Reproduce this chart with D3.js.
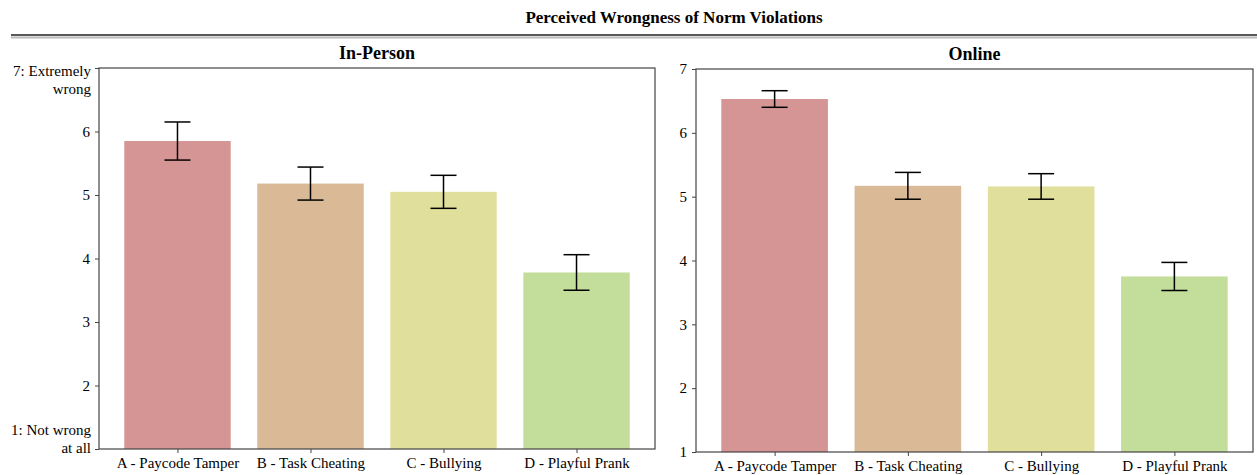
<!DOCTYPE html>
<html>
<head>
<meta charset="utf-8">
<script src="https://cdn.jsdelivr.net/npm/d3@7"></script>
<style>
	body { margin: 0; background: #fff; }
	text { font-family: "Liberation Serif", "Times New Roman", serif; fill: #000; }
</style>
</head>
<body>
<div id="chart"></div>
<script>

var categories = ["A - Paycode Tamper", "B - Task Cheating", "C - Bullying", "D - Playful Prank"];
var colors = ["#d69595", "#d9b996", "#e0df9b", "#c3de9a"];

var inPersonMeans = [5.85, 5.18, 5.05, 3.78];
var inPersonErr = [0.30, 0.26, 0.26, 0.28];

var onlineMeans = [6.53, 5.17, 5.16, 3.75];
var onlineErr = [0.13, 0.21, 0.20, 0.22];

var leftTicks = [1, 2, 3, 4, 5, 6, 7];
var leftTickLabels = {1: ["1: Not wrong", "at all"], 7: ["7: Extremely", "wrong"]};

var width = 1257, height = 475;

var svg = d3.select("#chart")
	.append("svg")
	.attr("width", width)
	.attr("height", height);

// main title
svg.append("text")
	.attr("x", 674)
	.attr("y", 23)
	.attr("text-anchor", "middle")
	.style("font-size", "17px")
	.style("font-weight", "bold")
	.text("Perceived Wrongness of Norm Violations");

svg.append("line")
	.attr("x1", 11).attr("x2", 1257)
	.attr("y1", 35).attr("y2", 35)
	.attr("stroke", "#222").attr("stroke-width", 1.5);
svg.append("line")
	.attr("x1", 11).attr("x2", 1257)
	.attr("y1", 37.5).attr("y2", 37.5)
	.attr("stroke", "#bbb").attr("stroke-width", 2);

function drawPanel(opts) {
	var g = svg.append("g");
	var left = opts.left, right = opts.right, top = opts.top, bottom = opts.bottom;

	var x = d3.scaleLinear().domain([-0.59, 3.59]).range([left, right]);
	var y = d3.scaleLinear().domain([1, 7]).range([bottom, top]);
	var barW = x(0.8) - x(0);

	// bars
	g.selectAll("rect.bar")
		.data(opts.means)
		.enter()
		.append("rect")
		.attr("class", "bar")
		.attr("x", function (d, i) { return x(i) - barW / 2; })
		.attr("width", barW)
		.attr("y", function (d) { return y(d); })
		.attr("height", function (d) { return y(1) - y(d); })
		.attr("fill", function (d, i) { return colors[i]; });

	// error bars
	var capW = 13;
	opts.means.forEach(function (m, i) {
		var e = opts.err[i];
		var cx = x(i);
		g.append("line")
			.attr("x1", cx).attr("x2", cx)
			.attr("y1", y(m + e)).attr("y2", y(m - e))
			.attr("stroke", "#000").attr("stroke-width", 1.5);
		[m + e, m - e].forEach(function (v) {
			g.append("line")
				.attr("x1", cx - capW).attr("x2", cx + capW)
				.attr("y1", y(v)).attr("y2", y(v))
				.attr("stroke", "#000").attr("stroke-width", 1.5);
		});
	});

	// frame
	g.append("rect")
		.attr("x", left).attr("y", top)
		.attr("width", right - left).attr("height", bottom - top)
		.attr("fill", "none")
		.attr("stroke", "#444")
		.attr("stroke-width", 1.2);

	// x axis
	var xAxis = d3.axisBottom(x)
		.tickValues([0, 1, 2, 3])
		.tickSize(4)
		.tickPadding(4)
		.tickFormat(function (d) { return categories[d]; });
	var gx = g.append("g")
		.attr("transform", "translate(0," + bottom + ")")
		.call(xAxis);
	gx.select(".domain").remove();
	gx.selectAll("line").attr("stroke", "#444");
	gx.selectAll("text").style("font-size", "15px").style("font-family", "Liberation Serif");

	// y axis
	var yAxis = d3.axisLeft(y)
		.tickValues(leftTicks)
		.tickSize(4)
		.tickPadding(5)
		.tickFormat(function (d) { return opts.labels && opts.labels[d] ? "" : d; });
	var gy = g.append("g")
		.attr("transform", "translate(" + left + ",0)")
		.call(yAxis);
	gy.select(".domain").remove();
	gy.selectAll("line").attr("stroke", "#444");
	gy.selectAll("text").style("font-size", "15px").style("font-family", "Liberation Serif");

	if (opts.labels) {
		// top label hangs from the tick, bottom label sits on it
		leftTickLabels[7].forEach(function (t, k) {
			g.append("text")
				.attr("x", left - 8)
				.attr("y", y(7) + 8 + k * 18)
				.attr("text-anchor", "end")
				.style("font-size", "15px")
				.text(t);
		});
		leftTickLabels[1].forEach(function (t, k) {
			g.append("text")
				.attr("x", left - 8)
				.attr("y", y(1) - 14 + k * 18)
				.attr("text-anchor", "end")
				.style("font-size", "15px")
				.text(t);
		});
	}

	// panel title
	g.append("text")
		.attr("x", (left + right) / 2)
		.attr("y", top - 9)
		.attr("text-anchor", "middle")
		.style("font-size", "18px")
		.style("font-weight", "bold")
		.text(opts.title);
}

drawPanel({
	left: 99, right: 655, top: 68, bottom: 449,
	means: inPersonMeans, err: inPersonErr,
	labels: leftTickLabels, title: "In-Person"
});

drawPanel({
	left: 696, right: 1253, top: 69, bottom: 452,
	means: onlineMeans, err: onlineErr,
	labels: null, title: "Online"
});

</script>
</body>
</html>
